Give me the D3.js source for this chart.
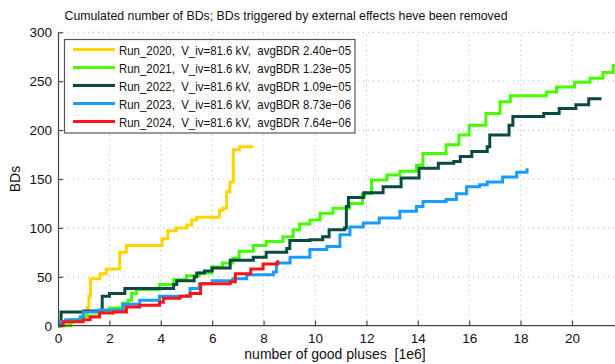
<!DOCTYPE html>
<html>
<head>
<meta charset="utf-8">
<script src="https://cdn.jsdelivr.net/npm/d3@7"></script>
<style>
  body { margin: 0; background: #fff; }
  svg { display: block; font-family: "Liberation Sans", Arial, sans-serif; }
</style>
</head>
<body>
<div id="chart"></div>
<script>
let width = 615, height = 364

// DATA (x in 1e6 good pulses, y = cumulated BDs)
let run2020 = [[0,0],[0.3,3],[0.6,6],[0.9,10],[1.12,18],[1.2,30],[1.26,48],[1.64,53],[1.87,58],[2.4,75],[2.66,82],[4.05,89],[4.27,97],[4.6,100],[5.0,103],[5.2,108],[5.4,111],[6.28,118],[6.42,120],[6.56,137],[6.69,147],[6.82,180],[7.06,183],[7.6,183]]
let run2021 = [[0,0],[0.35,0],[0.5,6],[1.0,10],[1.6,14],[2.0,18],[2.5,23],[2.72,26],[2.86,33],[3.05,37],[3.95,42],[4.5,47],[5.0,51],[5.5,54],[5.98,60],[6.4,64],[6.8,69],[7.05,76],[7.6,82],[8.1,86],[8.75,91],[9.15,98],[9.4,104],[9.8,108],[10.2,115],[10.7,120],[11.35,125],[11.85,135],[12.2,149],[12.8,154],[13.3,158],[13.95,164],[14.2,176],[15.1,185],[15.6,195],[16.0,205],[16.65,217],[17.2,229],[17.6,235],[19.0,239],[19.4,244],[20.1,249],[20.7,253],[21.2,259],[21.6,266],[22,270]]
let run2022 = [[0,0],[0.12,14],[1.0,15],[1.7,16],[1.72,30],[2.0,33],[2.6,38],[3.9,38],[4.5,42],[4.62,46],[5.3,50],[5.4,54],[5.7,56],[6.0,59],[6.7,67],[7.6,70],[8.1,75],[8.9,79],[9.02,87],[9.8,88],[10.3,91],[10.55,98],[11.15,100],[11.22,122],[11.3,131],[11.9,136],[12.65,142],[13.35,151],[14.05,161],[14.8,166],[15.4,168],[15.65,173],[16.1,178],[16.7,183],[16.8,195],[17.55,205],[17.7,214],[18.9,217],[19.5,222],[20.15,226],[20.65,232],[21.15,232]]
let run2023 = [[0,0],[0.08,4],[0.3,6],[0.86,9],[0.98,14],[1.6,16],[2.54,22],[3.18,26],[3.95,30],[5.0,31],[5.14,38],[5.5,43],[6.0,46],[6.8,48],[7.34,52],[8.38,55],[8.5,64],[9.03,70],[9.8,78],[10.07,78],[10.46,81],[10.97,93],[11.36,101],[11.88,105],[12.5,110],[13.3,117],[13.95,122],[14.2,127],[15.1,129],[15.5,135],[15.9,142],[16.4,144],[16.7,147],[17.3,152],[17.85,157],[18.25,161]]
let run2024 = [[0,0],[0.2,4],[0.98,6],[1.25,9],[1.62,13],[2.15,14],[2.66,19],[3.18,21],[3.95,24],[4.1,28],[4.75,30],[5.14,33],[5.55,43],[6.7,45],[6.9,53],[7.5,58],[7.98,63],[8.55,67]]

let series = [
  { name: 'Run_2020', bdr: '2.40e\u221205', color: '#ffd400', values: run2020 },
  { name: 'Run_2021', bdr: '1.23e\u221205', color: '#44ff00', values: run2021 },
  { name: 'Run_2022', bdr: '1.09e\u221205', color: '#0b4a40', values: run2022 },
  { name: 'Run_2023', bdr: '8.73e\u221206', color: '#1a9cff', values: run2023 },
  { name: 'Run_2024', bdr: '7.64e\u221206', color: '#ff1414', values: run2024 }
]

let xTicks = [0, 2, 4, 6, 8, 10, 12, 14, 16, 18, 20]
let yTicks = [0, 50, 100, 150, 200, 250, 300]

// SCALES
let x = d3.scaleLinear().domain([0, 22]).range([58, 623.4])
let y = d3.scaleLinear().domain([0, 300]).range([325.7, 32.3])

let svg = d3.select('#chart')
  .append('svg')
  .attr('width', width)
  .attr('height', height)

// GRID LINES
let grid = svg.append('g').attr('class', 'grid')
grid.selectAll('.vgrid')
  .data(xTicks.slice(1))
  .enter().append('line')
    .attr('x1', d => x(d)).attr('x2', d => x(d))
    .attr('y1', y(0)).attr('y2', y(300))
grid.selectAll('.hgrid')
  .data(yTicks.slice(1))
  .enter().append('line')
    .attr('x1', x(0)).attr('x2', width)
    .attr('y1', d => y(d)).attr('y2', d => y(d))
grid.selectAll('line')
  .attr('stroke', '#b4b4b4')
  .attr('stroke-width', 1)
  .attr('stroke-dasharray', '1,4')

// LINES
let line = d3.line()
  .x(d => x(d[0]))
  .y(d => y(d[1]))
  .curve(d3.curveStepAfter)

let clip = svg.append('clipPath').attr('id', 'plot-clip')
  .append('rect')
  .attr('x', x(0)).attr('y', y(300))
  .attr('width', width - x(0)).attr('height', y(0) - y(300) + 2)

svg.append('g')
  .attr('clip-path', 'url(#plot-clip)')
  .selectAll('path')
  .data(series)
  .enter().append('path')
    .attr('d', d => line(d.values))
    .attr('fill', 'none')
    .attr('stroke', d => d.color)
    .attr('stroke-width', 3)
    .attr('stroke-linejoin', 'miter')

// AXES
let xAxis = svg.append('g')
  .attr('transform', 'translate(0,' + y(0) + ')')
  .call(d3.axisBottom(x).tickValues(xTicks).tickSizeInner(-5).tickSizeOuter(0).tickPadding(8))
let yAxis = svg.append('g')
  .attr('transform', 'translate(' + x(0) + ',0)')
  .call(d3.axisLeft(y).tickValues(yTicks).tickSizeInner(-5).tickSizeOuter(0).tickPadding(6))

svg.selectAll('.domain, .tick line').attr('stroke', '#444').attr('stroke-width', 1.2)
xAxis.select('.domain').attr('d', 'M' + x(0) + ',0H' + width)
svg.selectAll('.tick text')
  .style('font-size', '13.5px')
  .style('font-family', '"Liberation Sans", Arial, sans-serif')
  .attr('fill', '#111')

// TITLE AND LABELS
svg.append('text')
  .attr('x', 286).attr('y', 20)
  .attr('text-anchor', 'middle')
  .style('font-size', '13.5px')
  .attr('textLength', 443)
  .attr('lengthAdjust', 'spacingAndGlyphs')
  .attr('fill', '#111')
  .text('Cumulated number of BDs; BDs triggered by external effects heve been removed')

svg.append('text')
  .attr('x', 335).attr('y', 359)
  .attr('text-anchor', 'middle')
  .style('font-size', '14px')
  .style('white-space', 'pre')
  .attr('fill', '#111')
  .text('number of good pluses  [1e6]')

svg.append('text')
  .attr('transform', 'translate(20,179) rotate(-90)')
  .attr('text-anchor', 'middle')
  .style('font-size', '14px')
  .attr('fill', '#111')
  .text('BDs')

// LEGEND
let legend = svg.append('g').attr('class', 'legend')
legend.append('rect')
  .attr('x', 64.5).attr('y', 39.5)
  .attr('width', 290.5).attr('height', 93.5)
  .attr('fill', '#fff')
  .attr('stroke', '#555')
  .attr('stroke-width', 1.2)

let items = legend.selectAll('.item')
  .data(series)
  .enter().append('g')
    .attr('class', 'item')
    .attr('transform', (d, i) => 'translate(0,' + (49.5 + i * 18) + ')')

items.append('line')
  .attr('x1', 73).attr('x2', 115)
  .attr('y1', 0).attr('y2', 0)
  .attr('stroke', d => d.color)
  .attr('stroke-width', 3)

items.append('text')
  .attr('x', 119).attr('y', 5)
  .style('font-size', '13.5px')
  .style('white-space', 'pre')
  .attr('textLength', 232)
  .attr('lengthAdjust', 'spacingAndGlyphs')
  .attr('fill', '#111')
  .text(d => d.name + ',  V_iv=81.6 kV,  avgBDR ' + d.bdr)
</script>
</body>
</html>
